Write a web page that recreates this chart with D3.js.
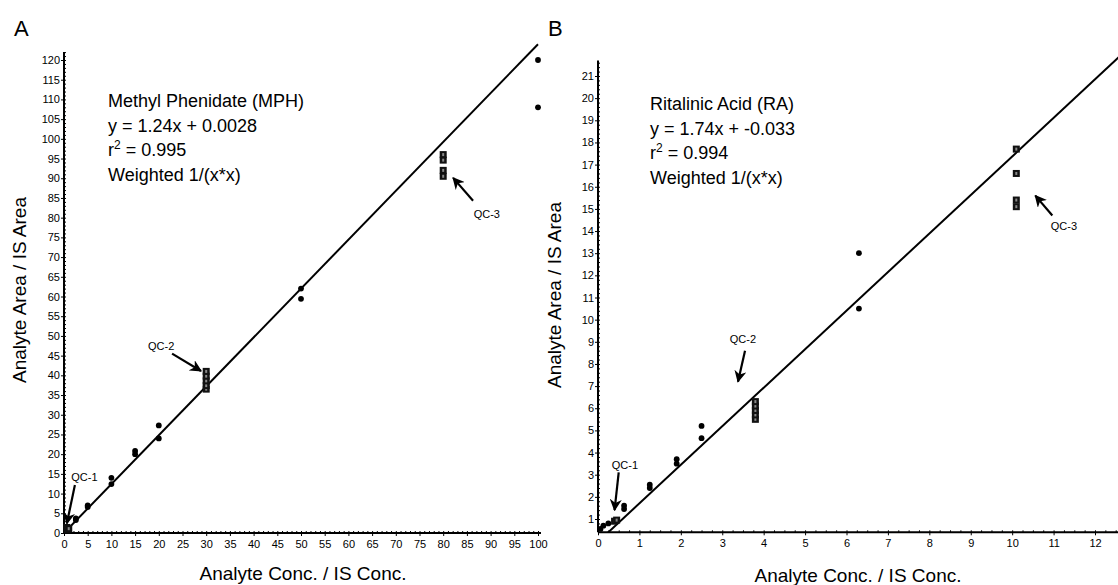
<!DOCTYPE html>
<html>
<head>
<meta charset="utf-8">
<script src="https://cdn.jsdelivr.net/npm/d3@7"></script>
<style>
  body { margin: 0; background: #fff; }
  svg { font-family: "Liberation Sans", Arial, sans-serif; }
  .tick text { font-size: 11px; fill: #000; }
  .domain { stroke: #000; stroke-width: 2px; }
</style>
</head>
<body>
<svg id="chart" width="1118" height="585"></svg>
<script>
// Panel A: Methyl Phenidate
const mphStdX = [0.5, 1, 2.5, 2.5, 5, 5, 10, 10, 15, 15, 20, 20, 50, 50, 100, 100];
const mphStdY = [0.6, 1.3, 3.3, 3.7, 6.6, 7.0, 12.4, 14.0, 20.0, 20.8, 24.0, 27.3, 59.4, 62.0, 108, 120];
const mphQcX = [0.6, 0.6, 1, 30, 30, 30, 30, 30, 80, 80, 80, 80];
const mphQcY = [0.8, 1.4, 1.1, 36.5, 37.4, 38.6, 39.8, 41.0, 90.5, 92.0, 94.6, 96.0];
const mphFit = { slope: 1.24, intercept: 0.0028 };
const mphText = ["Methyl Phenidate (MPH)", "y = 1.24x + 0.0028", "r²", "Weighted 1/(x*x)"];

// Panel B: Ritalinic Acid
const raStdX = [0.06, 0.13, 0.25, 0.63, 0.63, 1.25, 1.25, 1.9, 1.9, 2.5, 2.5, 6.3, 6.3];
const raStdY = [0.55, 0.7, 0.8, 1.45, 1.6, 2.4, 2.55, 3.5, 3.7, 4.65, 5.2, 10.5, 13.0];
const raQcX = [0.4, 0.45, 3.8, 3.8, 3.8, 3.8, 3.8, 10.1, 10.1, 10.1, 10.1];
const raQcY = [0.9, 0.95, 5.5, 5.7, 5.9, 6.1, 6.3, 15.1, 15.4, 16.6, 17.7];
const raFit = { slope: 1.74, intercept: -0.033 };
const raText = ["Ritalinic Acid (RA)", "y = 1.74x + -0.033", "r²", "Weighted 1/(x*x)"];

// QC annotations: label, arrow tail, arrow tip (data units)
const mphNotes = [
  { label: "QC-1", text: [4.3, 14.2], tail: [2.3, 12.2], tip: [0.6, 2.4] },
  { label: "QC-2", text: [20.5, 47.4], tail: [22.8, 45.5], tip: [28.9, 41.1] },
  { label: "QC-3", text: [89.2, 80.8], tail: [86.3, 84.3], tip: [82.1, 90.1] }
];
const raNotes = [
  { label: "QC-1", text: [0.65, 3.45], tail: [0.5, 3.1], tip: [0.4, 1.4] },
  { label: "QC-2", text: [3.5, 9.1], tail: [3.55, 8.6], tip: [3.38, 7.2] },
  { label: "QC-3", text: [11.25, 14.2], tail: [10.97, 14.7], tip: [10.56, 15.6] }
];

const svg = d3.select("#chart");
const defs = svg.append("defs");

defs.append("marker")
  .attr("id", "arrow")
  .attr("viewBox", "0 0 10 10")
  .attr("refX", 9).attr("refY", 5)
  .attr("markerWidth", 5.5).attr("markerHeight", 5.5)
  .attr("markerUnits", "strokeWidth")
  .attr("orient", "auto")
  .append("path")
  .attr("d", "M0,0 L10,5 L0,10 L3,5 Z")
  .attr("fill", "#000");

function drawPanel(cfg) {
  const g = svg.append("g");
  const x = cfg.x, y = cfg.y;

  // clip for the fit line so it stops at the axes
  defs.append("clipPath").attr("id", "clip" + cfg.letter)
    .append("rect")
    .attr("x", x(cfg.xMin)).attr("y", 0)
    .attr("width", cfg.xEnd - x(cfg.xMin))
    .attr("height", y(cfg.yMin));

  // minor ticks
  g.append("g")
    .attr("transform", `translate(0,${y(cfg.yMin)})`)
    .call(d3.axisBottom(x).tickValues(cfg.xMinor).tickSize(-2).tickFormat(""))
    .call(a => a.select(".domain").remove());
  g.append("g")
    .attr("transform", `translate(${x(cfg.xMin)},0)`)
    .call(d3.axisLeft(y).tickValues(cfg.yMinor).tickSize(-2).tickFormat(""))
    .call(a => a.select(".domain").remove());

  // major axes
  const xAxis = g.append("g")
    .attr("transform", `translate(0,${y(cfg.yMin)})`)
    .call(d3.axisBottom(x).tickValues(cfg.xTicks).tickSize(3).tickPadding(4).tickFormat(d3.format("d")));
  xAxis.select(".domain").attr("d", `M${x(cfg.xMin)},0H${cfg.xEnd}`);

  const yAxis = g.append("g")
    .attr("transform", `translate(${x(cfg.xMin)},0)`)
    .call(d3.axisLeft(y).tickValues(cfg.yTicks).tickSize(3).tickPadding(1).tickFormat(d3.format("d")));
  yAxis.select(".domain").attr("d", `M0,${y(cfg.yMin)}V${y(cfg.yTop)}`);

  // regression line
  const lineX = [cfg.xMin, cfg.lineEnd];
  g.append("path")
    .attr("clip-path", `url(#clip${cfg.letter})`)
    .attr("d", d3.line().x(d => x(d)).y(d => y(cfg.fit.slope * d + cfg.fit.intercept))(lineX))
    .attr("fill", "none")
    .attr("stroke", "#000")
    .attr("stroke-width", 2);

  // standards: filled circles
  g.selectAll("circle.std")
    .data(cfg.stdX.map((d, i) => [d, cfg.stdY[i]]))
    .join("circle")
    .attr("class", "std")
    .attr("cx", d => x(d[0]))
    .attr("cy", d => y(d[1]))
    .attr("r", 2.9)
    .attr("fill", "#000");

  // QCs: squares
  const qc = g.selectAll("g.qc")
    .data(cfg.qcX.map((d, i) => [d, cfg.qcY[i]]))
    .join("g")
    .attr("class", "qc")
    .attr("transform", d => `translate(${x(d[0])},${y(d[1])})`);
  qc.append("rect")
    .attr("x", -3.5).attr("y", -3.5).attr("width", 7).attr("height", 7)
    .attr("fill", "#111");
  qc.append("rect")
    .attr("x", -1).attr("y", -1.5).attr("width", 2).attr("height", 3)
    .attr("fill", "#888");

  // annotations
  cfg.notes.forEach(n => {
    g.append("line")
      .attr("x1", x(n.tail[0])).attr("y1", y(n.tail[1]))
      .attr("x2", x(n.tip[0])).attr("y2", y(n.tip[1]))
      .attr("stroke", "#000").attr("stroke-width", 2.2)
      .attr("marker-end", "url(#arrow)");
    g.append("text")
      .attr("x", x(n.text[0])).attr("y", y(n.text[1]))
      .attr("text-anchor", "middle")
      .attr("dy", "0.35em")
      .style("font-size", "11px")
      .text(n.label);
  });

  // equation block
  const tb = g.append("text")
    .attr("x", cfg.textPos[0]).attr("y", cfg.textPos[1])
    .style("font-size", "18px");
  cfg.text.forEach((t, i) => {
    const ts = tb.append("tspan").attr("x", cfg.textPos[0]).attr("dy", i === 0 ? 0 : 24.5);
    if (t === "r²") {
      ts.text("r");
      ts.append("tspan").attr("dy", -7).style("font-size", "12px").text("2");
      ts.append("tspan").attr("dy", 7).text(" = " + cfg.r2);
    } else {
      ts.text(t);
    }
  });

  // panel letter
  g.append("text")
    .attr("x", cfg.letterPos[0]).attr("y", cfg.letterPos[1])
    .style("font-size", "22px")
    .text(cfg.letter);

  // axis titles
  g.append("text")
    .attr("transform", `translate(${cfg.yTitle[0]},${cfg.yTitle[1]}) rotate(-90)`)
    .attr("text-anchor", "middle")
    .style("font-size", "19px")
    .text("Analyte Area / IS Area");
  g.append("text")
    .attr("x", cfg.xTitle[0]).attr("y", cfg.xTitle[1])
    .attr("text-anchor", "middle")
    .style("font-size", "19px")
    .text("Analyte Conc. / IS Conc.");
}

drawPanel({
  letter: "A", letterPos: [14, 36],
  x: d3.scaleLinear().domain([0, 100]).range([64, 538]),
  y: d3.scaleLinear().domain([0, 120]).range([533, 60]),
  xMin: 0, yMin: 0, yTop: 122, xEnd: 541, lineEnd: 100,
  xTicks: d3.range(0, 101, 5), yTicks: d3.range(0, 121, 5),
  xMinor: d3.range(0, 101, 1), yMinor: d3.range(0, 123, 1),
  stdX: mphStdX, stdY: mphStdY, qcX: mphQcX, qcY: mphQcY,
  fit: mphFit, text: mphText, r2: "0.995", textPos: [108, 107],
  notes: mphNotes,
  yTitle: [26, 290], xTitle: [303, 580]
});

drawPanel({
  letter: "B", letterPos: [548, 36],
  x: d3.scaleLinear().domain([0, 12]).range([598, 1095]),
  y: d3.scaleLinear().domain([1, 21]).range([519, 76]),
  xMin: 0, yMin: 0.4, yTop: 21.7, xEnd: 1118, lineEnd: 12.6,
  xTicks: d3.range(0, 13, 1), yTicks: d3.range(1, 22, 1),
  xMinor: d3.range(0, 12.6, 0.25), yMinor: d3.range(0.6, 21.7, 0.2),
  stdX: raStdX, stdY: raStdY, qcX: raQcX, qcY: raQcY,
  fit: raFit, text: raText, r2: "0.994", textPos: [650, 110],
  notes: raNotes,
  yTitle: [561, 295], xTitle: [858, 582]
});
</script>
</body>
</html>
